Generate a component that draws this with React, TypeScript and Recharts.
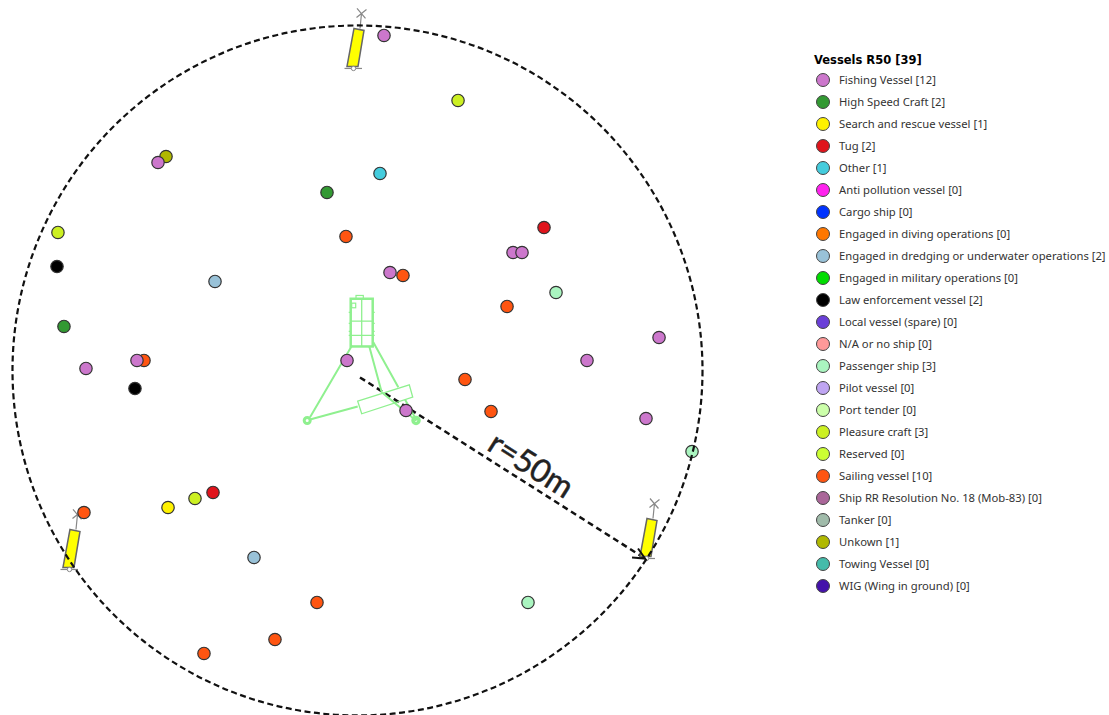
import { ScatterChart, Scatter, XAxis, YAxis, ReferenceDot, ReferenceLine } from "recharts";

// positions are metres from the centre of the R50 circle, north up
const RADIUS_M = 50;
const LEGEND_TITLE = "Vessels R50 [39]";

const VESSEL_TYPES = [
  "Fishing Vessel",
  "High Speed Craft",
  "Search and rescue vessel",
  "Tug",
  "Other",
  "Anti pollution vessel",
  "Cargo ship",
  "Engaged in diving operations",
  "Engaged in dredging or underwater operations",
  "Engaged in military operations",
  "Law enforcement vessel",
  "Local vessel (spare)",
  "N/A or no ship",
  "Passenger ship",
  "Pilot vessel",
  "Port tender",
  "Pleasure craft",
  "Reserved",
  "Sailing vessel",
  "Ship RR Resolution No. 18 (Mob-83)",
  "Tanker",
  "Unkown",
  "Towing Vessel",
  "WIG (Wing in ground)",
];

const VESSEL_COUNTS = [12, 2, 1, 2, 1, 0, 0, 0, 2, 0, 2, 0, 0, 3, 0, 0, 3, 0, 10, 0, 0, 1, 0, 0];

const VESSEL_COLORS = [
  "#cc77cc", "#339933", "#fff200", "#e0141c", "#44ccdd", "#ff22ee", "#0033ff", "#ff7700",
  "#99c2d8", "#00dd00", "#000000", "#6a3fd8", "#ff9999", "#aaf5c0", "#bfa5f2", "#ccffaa",
  "#ccf022", "#ccff33", "#ff5511", "#aa6699", "#a0bbaa", "#b0b800", "#44bbaa", "#4411aa",
];

const fishing = [
  { x: 3.84, y: 48.55 }, { x: -28.91, y: 30.14 }, { x: 22.54, y: 17.1 }, { x: 23.84, y: 17.1 },
  { x: 4.71, y: 14.2 }, { x: -1.52, y: 1.45 }, { x: -31.96, y: 1.45 }, { x: -39.35, y: 0.29 },
  { x: 33.26, y: 1.45 }, { x: 43.7, y: 4.78 }, { x: 41.81, y: -6.96 }, { x: 7.03, y: -5.8 },
];
const highSpeed = [{ x: -4.42, y: 25.8 }, { x: -42.54, y: 6.38 }];
const searchRescue = [{ x: -27.46, y: -19.86 }];
const tug = [{ x: 27.03, y: 20.72 }, { x: -20.94, y: -17.68 }];
const other = [{ x: 3.26, y: 28.55 }];
const dredging = [{ x: -20.65, y: 12.9 }, { x: -15.0, y: -27.1 }];
const lawEnforcement = [{ x: -43.55, y: 15.07 }, { x: -32.25, y: -2.61 }];
const passenger = [{ x: 28.77, y: 11.3 }, { x: 24.71, y: -33.62 }, { x: 48.48, y: -11.74 }];
const pleasure = [{ x: 14.57, y: 39.13 }, { x: -43.41, y: 20.0 }, { x: -23.55, y: -18.55 }];
// this one sits under a fishing vessel, the rest are on top
const sailingBehind = [{ x: -30.94, y: 1.45 }];
const sailing = [
  { x: -1.67, y: 19.42 }, { x: 6.59, y: 13.77 }, { x: 21.67, y: 9.28 },
  { x: 15.58, y: -1.3 }, { x: 19.35, y: -5.94 }, { x: -39.64, y: -20.58 }, { x: -5.87, y: -33.62 },
  { x: -11.96, y: -38.99 }, { x: -22.25, y: -41.01 },
];
const unknown = [{ x: -27.75, y: 31.01 }];

const buoys = [{ x: -0.58, y: 43.77 }, { x: -41.74, y: -28.84 }, { x: 41.88, y: -27.25 }];
const platform = [{ x: 0.61, y: 3.48 }];
const arrowStart = { x: 0.36, y: -1.01 };
const arrowEnd = { x: 41.67, y: -27.25 };
const radiusLabel = [{ x: 24.3, y: -15.05 }];

const color = (name: string) => VESSEL_COLORS[VESSEL_TYPES.indexOf(name)];

const Dot = (props: any) => (
  <circle cx={props.cx} cy={props.cy} r={6.2} fill={props.fill} stroke="#333" strokeWidth={1.2} />
);

const Buoy = ({ cx, cy }: any) => (
  <g transform={`translate(${cx},${cy})`}>
    <path d="M6.5 -40L8 -55M3.5 -60L12 -50M3 -51L13 -59" fill="none" stroke="#888" strokeWidth={1.2} />
    <path d="M-9 0L8.5 0" stroke="#888" strokeWidth={1.2} />
    <path d="M0.5 -40L10.5 -38L4.5 -2L-6.5 -2Z" fill="#ffff00" stroke="#666" strokeWidth={1.5} />
    <circle cx={0} cy={0} r={2.2} fill="#fff" stroke="#888" />
  </g>
);

const Platform = ({ cx, cy }: any) => (
  <g transform={`translate(${cx},${cy})`} fill="none" stroke="#8ff08f" strokeWidth={2}>
    <rect x={-11} y={-47.7} width={22} height={47.7} strokeWidth={2.5} />
    <rect x={-5.7} y={-51} width={7.3} height={3.3} strokeWidth={1.2} />
    <rect x={-10} y={-43.3} width={4} height={4.6} strokeWidth={1.2} />
    <path d="M0 -47.7V0M-11 -25.3H11M-11 -11H11" strokeWidth={1.3} />
    <path d="M-13 -34H-11M-13 -23H-11M-13 -15H-11M-13 -11H-11M11 -34H13M11 -23H13M11 -15H13M11 -11H13" strokeWidth={1.2} />
    <path d="M-9.7 -1L-51.7 70.7M7.6 0L20 45.7M11.6 -4.3L36.6 40.7M20 45.7L54.3 74M-51.7 73L-4 60M43.3 53L55 74" />
    <path d="M-4 54.7L47.6 38.3L51 50.7L0 67.3Z" strokeWidth={1.3} />
    <circle cx={-54.5} cy={74} r={3} strokeWidth={3} />
    <circle cx={54.3} cy={74} r={3} strokeWidth={3.5} />
  </g>
);

const ArrowHead = ({ cx, cy }: any) => (
  <path
    d={`M${cx - 13} ${cy - 1}L${cx} ${cy}L${cx - 7} ${cy - 10}`}
    fill="none"
    stroke="#111"
    strokeWidth={2}
  />
);

const RadiusText = ({ cx, cy }: any) => (
  <text
    x={cx}
    y={cy}
    transform={`rotate(32.4 ${cx} ${cy})`}
    textAnchor="middle"
    fontFamily="Lato"
    fontSize={32}
    fill="#222"
    stroke="#222"
    strokeWidth={0.5}
  >
    r=50m
  </text>
);

function VesselLegend() {
  return (
    <div
      style={{
        position: "absolute",
        left: 814,
        top: 52,
        fontFamily: "Noto Sans",
        fontSize: 11.25,
        color: "#333",
        whiteSpace: "nowrap",
      }}
    >
      <div style={{ height: 17, lineHeight: "17px", fontFamily: "DejaVu Sans", fontSize: 11.5, fontWeight: 700, color: "#000" }}>
        {LEGEND_TITLE}
      </div>
      {VESSEL_TYPES.map((name, i) => (
        <div key={name} style={{ position: "absolute", top: 17 + i * 22, left: 0, height: 22, lineHeight: "22px" }}>
          <svg width={18} height={22} style={{ position: "absolute", left: 0, top: 0 }}>
            <circle cx={9} cy={11} r={6.5} fill={VESSEL_COLORS[i]} stroke="#444" strokeWidth={1} />
          </svg>
          <span style={{ marginLeft: 25 }}>{`${name} [${VESSEL_COUNTS[i]}]`}</span>
        </div>
      ))}
    </div>
  );
}

export default function App() {
  return (
    <div style={{ position: "absolute", left: 0, top: 0, width: 1109, height: 715, background: "#fff" }}>
      <ScatterChart width={1109} height={715} margin={{ top: 0, right: 0, bottom: 0, left: 0 }}>
        <XAxis type="number" dataKey="x" hide domain={[-51.81, 108.91]} />
        <YAxis type="number" dataKey="y" hide domain={[-49.93, 53.69]} />

        <Scatter data={platform} shape={Platform} isAnimationActive={false} />
        <Scatter data={buoys} shape={Buoy} isAnimationActive={false} />

        <Scatter name="Unkown" data={unknown} fill={color("Unkown")} shape={Dot} isAnimationActive={false} />
        <Scatter name="Sailing vessel" data={sailingBehind} fill={color("Sailing vessel")} shape={Dot} isAnimationActive={false} />
        <Scatter name="Fishing Vessel" data={fishing} fill={color("Fishing Vessel")} shape={Dot} isAnimationActive={false} />
        <Scatter name="Sailing vessel" data={sailing} fill={color("Sailing vessel")} shape={Dot} isAnimationActive={false} />
        <Scatter name="High Speed Craft" data={highSpeed} fill={color("High Speed Craft")} shape={Dot} isAnimationActive={false} />
        <Scatter name="Search and rescue vessel" data={searchRescue} fill={color("Search and rescue vessel")} shape={Dot} isAnimationActive={false} />
        <Scatter name="Tug" data={tug} fill={color("Tug")} shape={Dot} isAnimationActive={false} />
        <Scatter name="Other" data={other} fill={color("Other")} shape={Dot} isAnimationActive={false} />
        <Scatter name="Engaged in dredging or underwater operations" data={dredging} fill={color("Engaged in dredging or underwater operations")} shape={Dot} isAnimationActive={false} />
        <Scatter name="Law enforcement vessel" data={lawEnforcement} fill={color("Law enforcement vessel")} shape={Dot} isAnimationActive={false} />
        <Scatter name="Passenger ship" data={passenger} fill={color("Passenger ship")} shape={Dot} isAnimationActive={false} />
        <Scatter name="Pleasure craft" data={pleasure} fill={color("Pleasure craft")} shape={Dot} isAnimationActive={false} />

        <ReferenceDot
          x={0}
          y={0}
          r={RADIUS_M * 6.9}
          fill="none"
          stroke="#111"
          strokeWidth={2.2}
          strokeDasharray="6 3.5"
          ifOverflow="visible"
        />
        <ReferenceLine
          segment={[arrowStart, arrowEnd]}
          stroke="#111"
          strokeWidth={2.5}
          strokeDasharray="6 4"
          ifOverflow="visible"
        />
        <Scatter data={[arrowEnd]} shape={ArrowHead} isAnimationActive={false} />
        <Scatter data={radiusLabel} shape={RadiusText} isAnimationActive={false} />
      </ScatterChart>
      <VesselLegend />
    </div>
  );
}
